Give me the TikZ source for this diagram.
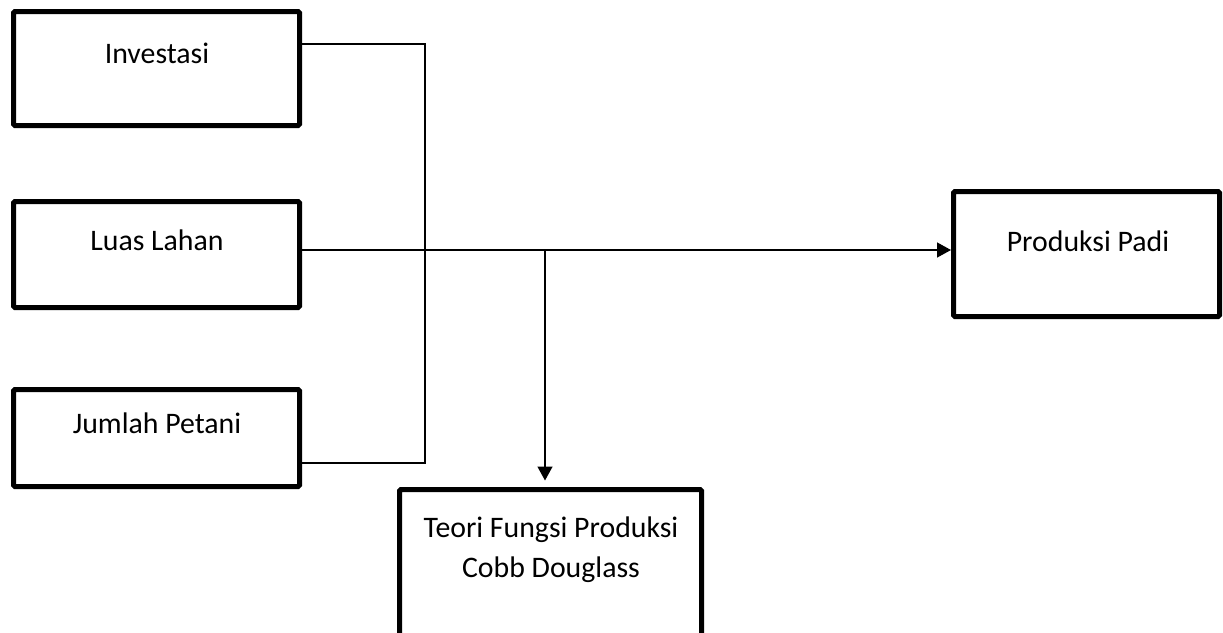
\documentclass[tikz,border=0pt]{standalone}
\usepackage{fontspec}
\setmainfont{Carlito}
\usetikzlibrary{arrows.meta}
\tikzset{
  boxnode/.style={draw=black, line width=5pt, rounded corners=1.5pt, inner sep=0pt, outer sep=0pt, fill=none},
  lbl/.style={anchor=base, inner sep=0pt, font=\fontsize{29.8}{40}\selectfont, align=center},
  conn/.style={draw=black, line width=1.4pt},
  arr/.style={conn, -{Triangle[length=14pt,width=15pt]}}
}
\begin{document}
\begin{tikzpicture}[x=1pt,y=-1pt]
\useasboundingbox (0,0) rectangle (1223,632);
% boxes
\node[boxnode, minimum width=286pt, minimum height=114pt] (inv) at (156.5,68.5) {};
\node[boxnode, minimum width=286pt, minimum height=106pt] (luas) at (156.5,254.5) {};
\node[boxnode, minimum width=286pt, minimum height=97pt] (jum) at (156.5,438) {};
\node[boxnode, minimum width=266pt, minimum height=125pt] (prod) at (1086.5,254) {};
\node[boxnode, minimum width=302pt, minimum height=170pt] (teori) at (550.5,574.5) {};
% labels
\node[lbl] (invT) at (157,63) {Investasi};
\node[lbl] (luasT) at (157,250) {Luas Lahan};
\node[lbl] (jumT) at (157,433) {Jumlah Petani};
\node[lbl] (prodT) at (1088,251) {Produksi Padi};
\node[lbl] (teoriT1) at (551,537) {Teori Fungsi Produksi};
\node[lbl] (teoriT2) at (551,577) {Cobb Douglass};
% junction coordinates
\coordinate (j1) at (425,44);
\coordinate (j2) at (425,463);
\coordinate (j3) at (545,250);
% connectors
\draw[conn] ([xshift=2.5pt]inv.east |- j1) -- (j1) -- (j2) -- ([xshift=2.5pt]jum.east |- j2);
\draw[arr, shorten >=2.5pt] ([xshift=2.5pt]luas.east |- j3) -- (prod.west |- j3);
\draw[arr, shorten >=9pt] (j3) -- (j3 |- teori.north);
\end{tikzpicture}
\end{document}
